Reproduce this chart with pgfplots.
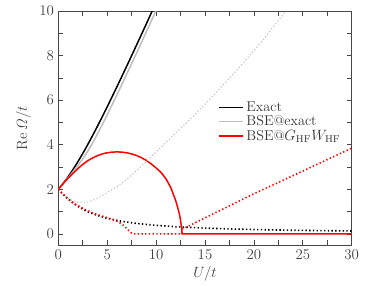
\documentclass[border=0pt]{standalone}
\usepackage{pgfplots}
\pgfplotsset{compat=1.18}
\definecolor{lgrey}{RGB}{190,190,190}
\definecolor{axgrey}{RGB}{70,70,70}
\begin{document}
\begin{tikzpicture}
\begin{axis}[
  scale only axis,
  width=236.6pt, height=188.7pt,
  at={(0,0)}, anchor=south west,
  xmin=0, xmax=30, ymin=-0.5, ymax=10,
  xtick={0,5,...,30}, minor x tick num=1,
  ytick={0,2,...,10}, minor y tick num=1,
  tick align=inside,
  major tick length=4pt, minor tick length=4pt,
  axis line style={axgrey, line width=0.8pt},
  every tick/.style={axgrey, line width=0.6pt},
  tick label style={text=black!75, font=\fontsize{11.5}{13}\selectfont},
  label style={text=black!75, font=\fontsize{11.5}{13}\selectfont},
  xlabel={$U/t$},
  ylabel={$\mathrm{Re}\,\mathit{\Omega}/t$},
  xlabel style={yshift=1pt},
  legend style={draw=none, fill=none, at={(rel axis cs:0.53,0.527)}, anchor=west, text=black!80, row sep=-2pt, font=\fontsize{11.5}{13}\selectfont},
  legend cell align=left,
  legend image code/.code={\draw[#1] (0cm,0cm) -- (0.7cm,0cm);},
  clip=true,
]
% Exact (solid)
\addplot[black, line width=1.2pt] coordinates {
(0,2) (0.5,2.2656) (1,2.5616) (1.5,2.886) (2,3.2361) (2.5,3.6085) (3,4) (3.5,4.4076) (4,4.8284) (5,5.7016) (6,6.6056) (7,7.5311) (8,8.4721) (9,9.4244) (10,10.3852)};
\addlegendentry{Exact}
% BSE@exact (solid)
\addplot[lgrey, line width=1.2pt] coordinates {
(0,2) (0.5,2.256) (1,2.522) (1.5,2.786) (2,3.066) (2.5,3.369) (3,3.70) (3.5,4.078) (4,4.478) (5,5.342) (6,6.246) (7,7.171) (8,8.112) (9,9.064) (10,10.025) (10.5,10.5)};
\addlegendentry{BSE@exact}
% BSE@GHF WHF (solid)
\addplot[red, line width=1.2pt] coordinates {
(0,2) (0.5,2.26) (1,2.5) (1.5,2.72) (2,2.93) (2.5,3.12) (3,3.28) (3.5,3.41) (4,3.51) (4.5,3.59) (5,3.64) (5.5,3.67) (6,3.68) (6.5,3.67) (7,3.64) (7.5,3.59) (8,3.52) (8.5,3.42) (9,3.3) (9.5,3.14) (10,2.96) (10.5,2.76) (11,2.48) (11.5,2.08) (12,1.5) (12.2,1.2) (12.4,0.85) (12.5,0.6) (12.6,0.3) (12.65,0) (30,0)};
\addlegendentry{BSE@$G_{\mathrm{HF}}W_{\mathrm{HF}}$}
% Exact (dotted)
\addplot[black, line width=1.3pt, dash pattern=on 1.1pt off 1.9pt] coordinates {
(0,2) (0.5,1.7656) (1,1.5616) (1.5,1.386) (2,1.2361) (2.5,1.1085) (3,1.0) (3.5,0.9076) (4,0.8284) (5,0.7016) (6,0.6056) (7,0.5311) (8,0.4721) (9,0.4244) (10,0.3852) (12,0.3246) (14,0.2801) (16,0.2462) (18,0.2195) (20,0.1980) (22,0.1803) (24,0.1655) (26,0.1529) (28,0.1421) (30,0.1327)};
% BSE@exact (dotted)
\addplot[lgrey, line width=0.9pt, dash pattern=on 0.9pt off 1.8pt] coordinates {
(0,2) (0.5,1.77) (1,1.58) (1.5,1.47) (2,1.42) (2.5,1.41) (3,1.43) (3.5,1.5) (4,1.6) (5,1.85) (6,2.12) (7,2.45) (8,2.84) (9,3.25) (10,3.68) (11,4.1) (12,4.52) (13,4.94) (14,5.37) (15,5.82) (16,6.28) (17,6.75) (18,7.23) (19,7.72) (20,8.22) (21,8.74) (22,9.3) (23,9.85) (24,10.4)};
% BSE@GHF WHF (dotted)
\addplot[red, line width=1.3pt, dash pattern=on 1.1pt off 1.9pt] coordinates {
(0,2) (0.5,1.78) (1,1.58) (1.5,1.41) (2,1.27) (2.5,1.15) (3,1.04) (3.5,0.95) (4,0.87) (4.5,0.8) (5,0.73) (5.5,0.66) (6,0.57) (6.5,0.45) (7,0.24) (7.5,0.03) (7.7,0) (12.6,0) (12.7,0.22) (15,0.72) (20,1.8) (25,2.82) (30,3.85)};
\end{axis}
\pgfresetboundingbox
\path[use as bounding box] (-47.0pt,-32.3pt) rectangle (247.3pt,197.6pt);
\end{tikzpicture}
\end{document}
